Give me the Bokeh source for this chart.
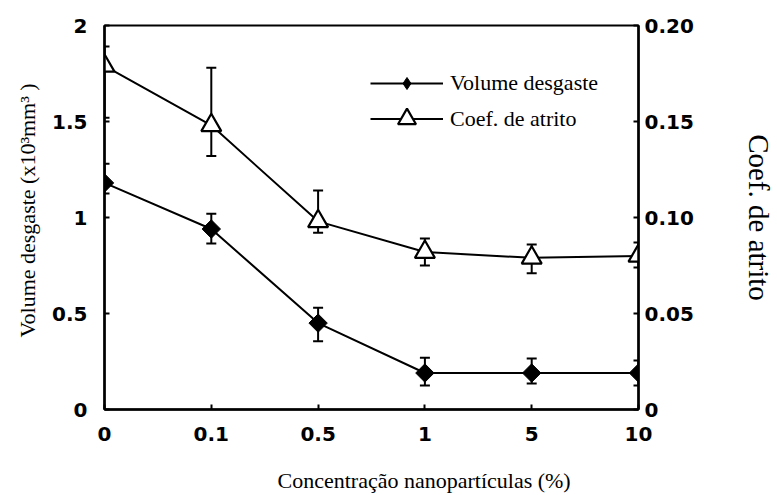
from bokeh.plotting import figure
from bokeh.models import (Range1d, LinearAxis, FixedTicker, Whisker, TeeHead,
                          ColumnDataSource, Legend, LegendItem, Title)
from bokeh.embed import file_html
from bokeh.resources import INLINE

# ---- data ----
categories = ["0", "0.1", "0.5", "1", "5", "10"]
volume = [1.18, 0.94, 0.45, 0.19, 0.19, 0.19]
volume_upper = [1.28, 1.02, 0.53, 0.27, 0.265, 0.255]
volume_lower = [1.125, 0.865, 0.355, 0.125, 0.135, 0.125]
coef = [0.179, 0.148, 0.098, 0.082, 0.079, 0.080]
coef_upper = [0.189, 0.178, 0.114, 0.089, 0.086, 0.087]
coef_lower = [0.152, 0.132, 0.092, 0.075, 0.071, 0.074]
left_ticks = [0, 0.5, 1, 1.5, 2]
left_tick_labels = ["0", "0.5", "1", "1.5", "2"]
right_ticks = [0, 0.05, 0.1, 0.15, 0.2]
right_tick_labels = ["0", "0.05", "0.10", "0.15", "0.20"]
x_title = "Concentração nanopartículas (%)"
left_title = "Volume desgaste (x10³mm³ )"
right_title = "Coef. de atrito"
series_names = ["Volume desgaste", "Coef. de atrito"]

x = list(range(len(categories)))
src = ColumnDataSource(dict(x=x, vol=volume, vu=volume_upper, vl=volume_lower,
                            coef=coef, cu=coef_upper, cl=coef_lower))

p = figure(width=777, height=495, output_backend="svg", toolbar_location=None,
           x_range=Range1d(0, len(categories) - 1), y_range=Range1d(0, 2),
           min_border_left=104, min_border_right=136, min_border_top=25,
           min_border_bottom=86)
p.extra_y_ranges = {"coef": Range1d(0, 0.2)}
p.grid.visible = False
p.outline_line_color = "black"
p.outline_line_width = 2
p.background_fill_color = "white"
p.border_fill_color = "white"

TICK_FONT = "DejaVu Sans"
SERIF = "Liberation Serif"


def style_axis(ax, standoff):
    ax.axis_line_color = "black"
    ax.axis_line_width = 2.5
    ax.major_tick_in = 5
    ax.major_tick_out = 0
    ax.major_tick_line_width = 2
    ax.minor_tick_line_color = None
    ax.major_label_text_font = TICK_FONT
    ax.major_label_text_font_style = "bold"
    ax.major_label_text_font_size = "20px"
    ax.major_label_text_color = "black"
    ax.major_label_standoff = standoff
    ax.axis_label_text_font = SERIF
    ax.axis_label_text_font_style = "normal"
    ax.axis_label_text_color = "black"


xa = p.xaxis[0]
xa.ticker = FixedTicker(ticks=x)
xa.major_label_overrides = {i: c for i, c in zip(x, categories)}
style_axis(xa, 17)
# invisible spacer label that only reserves room below the tick labels
xa.axis_label = "."
xa.axis_label_text_font_size = "10px"
xa.axis_label_text_color = None
xa.axis_label_text_alpha = 0
xa.axis_label_standoff = 12

ya = p.yaxis[0]
ya.ticker = FixedTicker(ticks=left_ticks)
ya.major_label_overrides = dict(zip(left_ticks, left_tick_labels))
style_axis(ya, 17)

ra = LinearAxis(y_range_name="coef")
ra.ticker = FixedTicker(ticks=right_ticks)
ra.major_label_overrides = dict(zip(right_ticks, right_tick_labels))
style_axis(ra, 6)
ra.axis_label = right_title
ra.axis_label_text_font_size = "29px"
ra.axis_label_standoff = 46
p.add_layout(ra, "right")

# lines and markers
vol_line = p.line("x", "vol", source=src, line_color="black", line_width=2)
vol_mark = p.scatter("x", "vol", source=src, marker="square", size=13, angle=0.785398,
                     fill_color="black", line_color="black", line_width=1)
coef_line = p.line("x", "coef", source=src, y_range_name="coef",
                   line_color="black", line_width=2)
coef_mark = p.scatter("x", "coef", source=src, y_range_name="coef", marker="triangle",
                      size=20, fill_color="white", line_color="black", line_width=2.2)

# legend-only marker renderers (placed outside the visible ranges)
legend_src = ColumnDataSource(dict(x=[-10], y=[-10]))
vol_key = p.scatter("x", "y", source=legend_src, marker="diamond",
                    fill_color="black", line_color="black", line_width=1)
coef_key = p.scatter("x", "y", source=legend_src, marker="triangle",
                     fill_color="white", line_color="black", line_width=2.2)

# error bars
for up, lo, rng in (("vu", "vl", "default"), ("cu", "cl", "coef")):
    p.add_layout(Whisker(source=src, base="x", upper=up, lower=lo, y_range_name=rng,
                         line_width=2, line_color="black",
                         upper_head=TeeHead(size=10, line_width=2, line_color="black"),
                         lower_head=TeeHead(size=10, line_width=2, line_color="black")))

legend_style = dict(padding=0, margin=0, glyph_width=73, label_height=24,
                    label_standoff=7, label_text_font=SERIF, label_text_font_size="22px",
                    label_text_color="black", border_line_color=None,
                    background_fill_alpha=0)
p.add_layout(Legend(items=[LegendItem(label=series_names[0], renderers=[vol_line, vol_key])],
                    location=(266, 311), glyph_height=30, **legend_style), "center")
p.add_layout(Legend(items=[LegendItem(label=series_names[1], renderers=[coef_line, coef_key])],
                    location=(266, 268), glyph_height=45, **legend_style), "center")

# axis titles placed as side titles (allow an offset along the axis)
p.add_layout(Title(text=x_title, align="left", offset=173, standoff=0,
                   vertical_align="bottom", text_font=SERIF, text_font_size="22px",
                   text_font_style="normal", text_color="black"), "below")
p.add_layout(Title(text=left_title, align="left", offset=72, standoff=16,
                   vertical_align="top", text_font=SERIF, text_font_size="22px",
                   text_font_style="normal", text_color="black"), "left")

open("out.html", "w").write(file_html(p, INLINE))
